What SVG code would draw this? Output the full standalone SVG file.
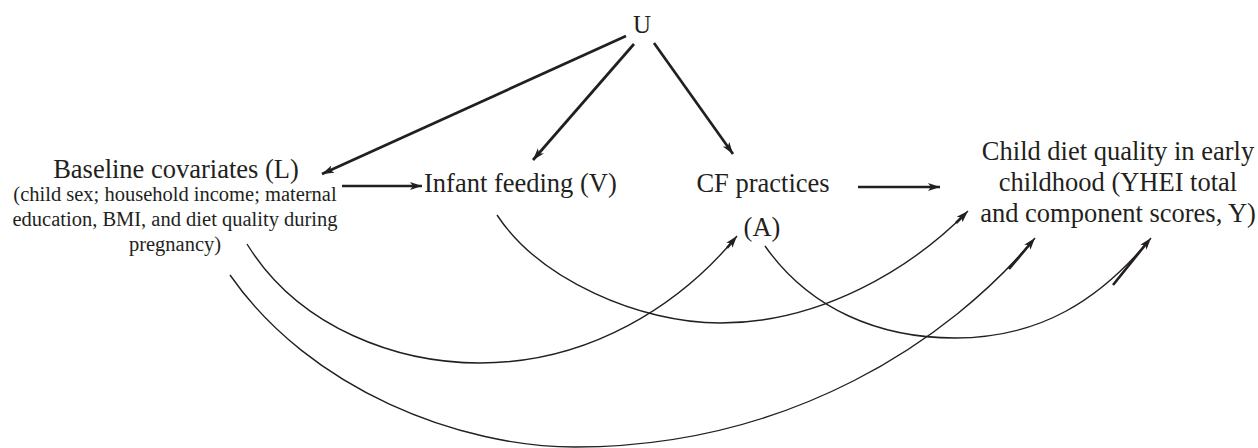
<svg xmlns="http://www.w3.org/2000/svg" width="1258" height="448" viewBox="0 0 1258 448">
<style>
text{font-family:"Liberation Serif","Times New Roman",serif;fill:#231f20}
.lab{font-size:26.5px}
.sub{font-size:20.5px}
.thick{stroke:#231f20;stroke-width:2.7;fill:none}
.thin{stroke:#231f20;stroke-width:1.4;fill:none}
.tip{stroke:#231f20;stroke-width:2.6;fill:none}
</style>
<defs>
<marker id="ah" markerUnits="userSpaceOnUse" markerWidth="14" markerHeight="10" refX="12" refY="5" orient="auto">
<path d="M0,1 L12,5 L0,9 L3,5 z" fill="#231f20"/>
</marker>
</defs>
<g id="U"><text class="lab" x="642" y="33" text-anchor="middle" style="font-size:25px">U</text></g>
<g id="L">
<text class="lab" x="176" y="178" text-anchor="middle">Baseline covariates (L)</text>
<text class="sub" x="175" y="201" text-anchor="middle">(child sex; household income; maternal</text>
<text class="sub" x="175" y="226" text-anchor="middle">education, BMI, and diet quality during</text>
<text class="sub" x="175" y="251" text-anchor="middle">pregnancy)</text>
</g>
<g id="V"><text class="lab" x="424" y="192">Infant feeding (V)</text></g>
<g id="A">
<text class="lab" x="763" y="192" text-anchor="middle">CF practices</text>
<text class="lab" x="762" y="236" text-anchor="middle">(A)</text>
</g>
<g id="Y">
<text class="lab" x="1118" y="160" text-anchor="middle">Child diet quality in early</text>
<text class="lab" x="1118" y="191" text-anchor="middle">childhood (YHEI total</text>
<text class="lab" x="1118" y="222" text-anchor="middle">and component scores, Y)</text>
</g>
<g id="connectors">
<line class="thick" x1="626" y1="36" x2="322" y2="174" marker-end="url(#ah)"/>
<line class="thick" x1="634" y1="44" x2="533" y2="160" marker-end="url(#ah)"/>
<line class="thick" x1="654" y1="43" x2="733" y2="154" marker-end="url(#ah)"/>
<line class="thick" x1="342" y1="186" x2="422" y2="186" marker-end="url(#ah)"/>
<line class="thick" x1="858" y1="187" x2="940" y2="187" marker-end="url(#ah)"/>
<path class="thin" d="M247,244 C300,330 400,363 480,363 C590,363 680,305 737,236" marker-end="url(#ah)"/>
<path class="thin" d="M230,275 C310,390 460,447 575,447 C790,447 950,340 1035,238" marker-end="url(#ah)"/>
<path class="thin" d="M497,215 C540,280 640,323 720,323 C820,323 910,270 968,211" marker-end="url(#ah)"/>
<path class="thin" d="M765,246 C810,310 880,338 955,338 C1040,338 1100,300 1151,238" marker-end="url(#ah)"/>
<line class="tip" x1="1009" y1="269" x2="1030" y2="244"/>
<line class="tip" x1="1113" y1="285" x2="1146" y2="244"/>
<line class="tip" x1="956" y1="223" x2="963" y2="216"/>
<line class="tip" x1="727" y1="248" x2="733" y2="241"/>
</g>
</svg>
